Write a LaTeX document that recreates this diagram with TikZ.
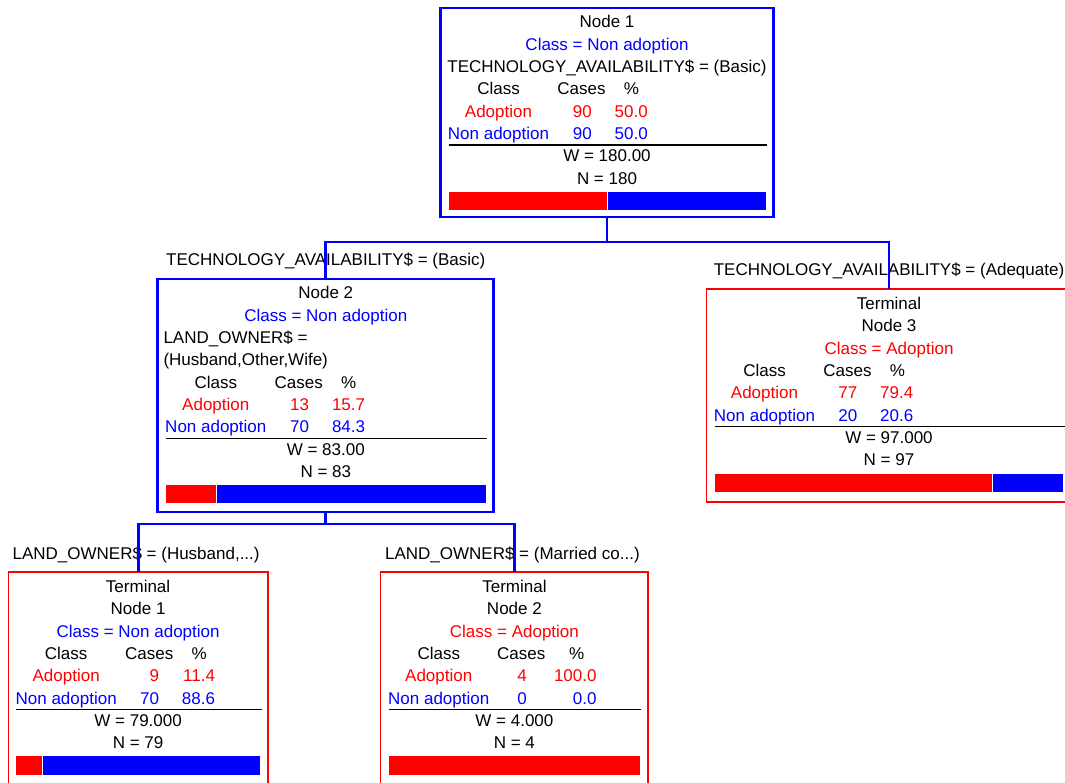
\documentclass[tikz,border=0pt]{standalone}
\usepackage{fontspec}
\setmainfont{Liberation Sans}
\usepackage{tikz}
\usetikzlibrary{calc,positioning}
\newcommand\cartfont{\fontsize{17pt}{20pt}\selectfont}
\definecolor{cartred}{RGB}{255,0,0}
\definecolor{cartblue}{RGB}{0,0,255}
\tikzset{
  splitbox/.style={draw=cartblue, line width=2.8pt, outer sep=0pt, inner sep=0pt},
  termbox/.style={draw=cartred, line width=1.3pt, outer sep=0pt, inner sep=0pt},
  txt/.style={font=\cartfont, inner sep=0pt, anchor=base},
  numr/.style={txt, anchor=base east},
  lft/.style={txt, anchor=base west},
  adtxt/.style={text=cartred},
  natxt/.style={text=cartblue},
  sepline/.style={line width=1.3pt},
  link/.style={draw=cartblue, line width=2.8pt},
}

\begin{document}
\begin{tikzpicture}[x=1pt, y=-1pt]
  \useasboundingbox (0,0) rectangle (1065,783);
  \clip (0,0) rectangle (1065,783);

  \node[splitbox, minimum width=333pt, minimum height=209pt] (n1) at (607,112.5) {};
  \node[splitbox, minimum width=336pt, minimum height=233pt] (n2) at (325.8,395.5) {};
  \node[termbox, minimum width=365pt, minimum height=213pt] (n3) at (889,395.5) {};
  \node[termbox, minimum width=259.8pt, minimum height=213pt] (t1) at (138.1,678.5) {};
  \node[termbox, minimum width=267.3pt, minimum height=213pt] (t2) at (514.4,678.5) {};

  \node[txt] (n1id) at ($(n1.north)+(0,20)$) {Node 1};
  \node[txt, natxt] (n1cls) at ($(n1.north)+(0,42.3)$) {Class = Non adoption};
  \node[txt] (n1var) at ($(n1.north)+(0,64.6)$) {TECHNOLOGY\_AVAILABILITY\$ = (Basic)};
  \node[txt] (n1hc) at ($(n1.north west)+(58,86.9)$) {Class};
  \node[txt] (n1hn) at ($(n1.north west)+(141,86.9)$) {Cases};
  \node[txt] (n1hp) at ($(n1.north west)+(191,86.9)$) {\%};
  \node[txt, adtxt] (n1ac) at ($(n1.north west)+(58,109.2)$) {Adoption};
  \node[numr, adtxt] (n1an) at ($(n1.north west)+(151.5,109.2)$) {90};
  \node[numr, adtxt] (n1ap) at ($(n1.north west)+(207.5,109.2)$) {50.0};
  \node[txt, natxt] (n1nc) at ($(n1.north west)+(58,131.5)$) {Non adoption};
  \node[numr, natxt] (n1nn) at ($(n1.north west)+(151.5,131.5)$) {90};
  \node[numr, natxt] (n1np) at ($(n1.north west)+(207.5,131.5)$) {50.0};
  \draw[sepline] ($(n1.north west)+(8,137)$) -- ($(n1.north east)+(-6.5,137)$);
  \node[txt] (n1w) at ($(n1.north)+(0,153.8)$) {W = 180.00};
  \node[txt] (n1n) at ($(n1.north)+(0,176.1)$) {N = 180};
  \fill[cartred] ($(n1.north west)+(8,184)$) rectangle ($(n1.north west)+(166.2,202)$);
  \fill[cartblue] ($(n1.north west)+(167.2,184)$) rectangle ($(n1.north east)+(-7.5,202)$);

  \node[txt] (n2id) at ($(n2.north)+(0,20)$) {Node 2};
  \node[txt, natxt] (n2cls) at ($(n2.north)+(0,42.3)$) {Class = Non adoption};
  \node[lft] (n2var) at ($(n2.north west)+(5.5,64.6)$) {LAND\_OWNER\$ =};
  \node[lft] (n2val) at ($(n2.north west)+(5.5,86.9)$) {(Husband,Other,Wife)};
  \node[txt] (n2hc) at ($(n2.north west)+(58,109.2)$) {Class};
  \node[txt] (n2hn) at ($(n2.north west)+(141,109.2)$) {Cases};
  \node[txt] (n2hp) at ($(n2.north west)+(191,109.2)$) {\%};
  \node[txt, adtxt] (n2ac) at ($(n2.north west)+(58,131.5)$) {Adoption};
  \node[numr, adtxt] (n2an) at ($(n2.north west)+(151.5,131.5)$) {13};
  \node[numr, adtxt] (n2ap) at ($(n2.north west)+(207.5,131.5)$) {15.7};
  \node[txt, natxt] (n2nc) at ($(n2.north west)+(58,153.8)$) {Non adoption};
  \node[numr, natxt] (n2nn) at ($(n2.north west)+(151.5,153.8)$) {70};
  \node[numr, natxt] (n2np) at ($(n2.north west)+(207.5,153.8)$) {84.3};
  \draw[sepline] ($(n2.north west)+(8,159.3)$) -- ($(n2.north east)+(-6.5,159.3)$);
  \node[txt] (n2w) at ($(n2.north)+(0,176.1)$) {W = 83.00};
  \node[txt] (n2n) at ($(n2.north)+(0,198.4)$) {N = 83};
  \fill[cartred] ($(n2.north west)+(8,206.3)$) rectangle ($(n2.north west)+(57.8,224.3)$);
  \fill[cartblue] ($(n2.north west)+(58.8,206.3)$) rectangle ($(n2.north east)+(-7.5,224.3)$);

  \node[txt] (n3term) at ($(n3.north)+(0,20.5)$) {Terminal};
  \node[txt] (n3id) at ($(n3.north)+(0,42.8)$) {Node 3};
  \node[txt, adtxt] (n3cls) at ($(n3.north)+(0,65.1)$) {Class = Adoption};
  \node[txt] (n3hc) at ($(n3.north west)+(58,87.4)$) {Class};
  \node[txt] (n3hn) at ($(n3.north west)+(141,87.4)$) {Cases};
  \node[txt] (n3hp) at ($(n3.north west)+(191,87.4)$) {\%};
  \node[txt, adtxt] (n3ac) at ($(n3.north west)+(58,109.7)$) {Adoption};
  \node[numr, adtxt] (n3an) at ($(n3.north west)+(151,109.7)$) {77};
  \node[numr, adtxt] (n3ap) at ($(n3.north west)+(207,109.7)$) {79.4};
  \node[txt, natxt] (n3nc) at ($(n3.north west)+(58,132)$) {Non adoption};
  \node[numr, natxt] (n3nn) at ($(n3.north west)+(151,132)$) {20};
  \node[numr, natxt] (n3np) at ($(n3.north west)+(207,132)$) {20.6};
  \draw[sepline] ($(n3.north west)+(8,137.5)$) -- ($(n3.north east)+(-6.5,137.5)$);
  \node[txt] (n3w) at ($(n3.north)+(0,154.3)$) {W = 97.000};
  \node[txt] (n3n) at ($(n3.north)+(0,176.6)$) {N = 97};
  \fill[cartred] ($(n3.north west)+(8,184.5)$) rectangle ($(n3.north west)+(285.8,202.5)$);
  \fill[cartblue] ($(n3.north west)+(286.8,184.5)$) rectangle ($(n3.north east)+(-8.5,202.5)$);

  \node[txt] (t1term) at ($(t1.north)+(0,20.5)$) {Terminal};
  \node[txt] (t1id) at ($(t1.north)+(0,42.8)$) {Node 1};
  \node[txt, natxt] (t1cls) at ($(t1.north)+(0,65.1)$) {Class = Non adoption};
  \node[txt] (t1hc) at ($(t1.north west)+(58,87.4)$) {Class};
  \node[txt] (t1hn) at ($(t1.north west)+(141,87.4)$) {Cases};
  \node[txt] (t1hp) at ($(t1.north west)+(191,87.4)$) {\%};
  \node[txt, adtxt] (t1ac) at ($(t1.north west)+(58,109.7)$) {Adoption};
  \node[numr, adtxt] (t1an) at ($(t1.north west)+(151,109.7)$) {9};
  \node[numr, adtxt] (t1ap) at ($(t1.north west)+(207,109.7)$) {11.4};
  \node[txt, natxt] (t1nc) at ($(t1.north west)+(58,132)$) {Non adoption};
  \node[numr, natxt] (t1nn) at ($(t1.north west)+(151,132)$) {70};
  \node[numr, natxt] (t1np) at ($(t1.north west)+(207,132)$) {88.6};
  \draw[sepline] ($(t1.north west)+(8,137.3)$) -- ($(t1.north east)+(-6.5,137.3)$);
  \node[txt] (t1w) at ($(t1.north)+(0,154.3)$) {W = 79.000};
  \node[txt] (t1n) at ($(t1.north)+(0,176.6)$) {N = 79};
  \fill[cartred] ($(t1.north west)+(8,184)$) rectangle ($(t1.north west)+(33.5,203)$);
  \fill[cartblue] ($(t1.north west)+(34.5,184)$) rectangle ($(t1.north east)+(-8.5,203)$);

  \node[txt] (t2term) at ($(t2.north)+(0,20.5)$) {Terminal};
  \node[txt] (t2id) at ($(t2.north)+(0,42.8)$) {Node 2};
  \node[txt, adtxt] (t2cls) at ($(t2.north)+(0,65.1)$) {Class = Adoption};
  \node[txt] (t2hc) at ($(t2.north west)+(58,87.4)$) {Class};
  \node[txt] (t2hn) at ($(t2.north west)+(140.5,87.4)$) {Cases};
  \node[txt] (t2hp) at ($(t2.north west)+(196,87.4)$) {\%};
  \node[txt, adtxt] (t2ac) at ($(t2.north west)+(58,109.7)$) {Adoption};
  \node[numr, adtxt] (t2an) at ($(t2.north west)+(146.3,109.7)$) {4};
  \node[numr, adtxt] (t2ap) at ($(t2.north west)+(216,109.7)$) {100.0};
  \node[txt, natxt] (t2nc) at ($(t2.north west)+(58,132)$) {Non adoption};
  \node[numr, natxt] (t2nn) at ($(t2.north west)+(146.3,132)$) {0};
  \node[numr, natxt] (t2np) at ($(t2.north west)+(216,132)$) {0.0};
  \draw[sepline] ($(t2.north west)+(8,137.3)$) -- ($(t2.north east)+(-7.5,137.3)$);
  \node[txt] (t2w) at ($(t2.north)+(0,154.3)$) {W = 4.000};
  \node[txt] (t2n) at ($(t2.north)+(0,176.6)$) {N = 4};
  \fill[cartred] ($(t2.north west)+(8,184)$) rectangle ($(t2.north east)+(-8.5,203)$);

  \node[txt] (lbl2) at ($(n2.north)+(0,-13)$) {TECHNOLOGY\_AVAILABILITY\$ = (Basic)};
  \node[txt] (lbl3) at ($(n3.north)+(0,-13)$) {TECHNOLOGY\_AVAILABILITY\$ = (Adequate)};
  \node[txt] (lblt1) at ($(t1.north)+(-2,-13)$) {LAND\_OWNER\$ = (Husband,...)};
  \node[txt] (lblt2) at ($(t2.north)+(-2,-13)$) {LAND\_OWNER\$ = (Married co...)};

  \draw[link] (n1.south) -- ++(0,25) -| (n2.north);
  \draw[link] (n1.south) -- ++(0,25) -| (n3.north);
  \draw[link] (n2.south) -- ++(0,12) -| (t1.north);
  \draw[link] (n2.south) -- ++(0,12) -| (t2.north);
\end{tikzpicture}
\end{document}
